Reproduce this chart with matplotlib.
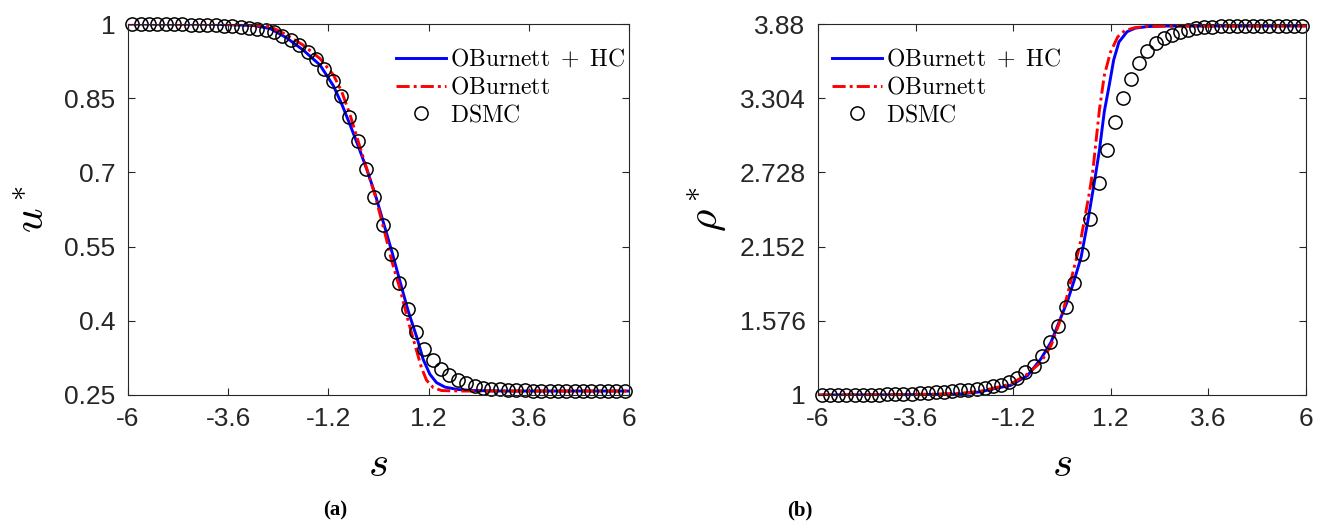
import numpy as np
import matplotlib
matplotlib.use('Agg')
import matplotlib.pyplot as plt

plt.rcParams['font.family'] = ['Liberation Sans', 'DejaVu Sans']
plt.rcParams['mathtext.fontset'] = 'cm'

# DSMC samples (same s-grid for both panels)
s_dsmc = [-5.9, -5.7, -5.5, -5.3, -5.1, -4.9, -4.7, -4.5, -4.3, -4.1,
          -3.9, -3.7, -3.5, -3.3, -3.1, -2.9, -2.7, -2.5, -2.3, -2.1,
          -1.9, -1.7, -1.5, -1.3, -1.1, -0.9, -0.7, -0.5, -0.3, -0.1,
          0.1, 0.3, 0.5, 0.7, 0.9, 1.1, 1.3, 1.5, 1.7, 1.9,
          2.1, 2.3, 2.5, 2.7, 2.9, 3.1, 3.3, 3.5, 3.7, 3.9,
          4.1, 4.3, 4.5, 4.7, 4.9, 5.1, 5.3, 5.5, 5.7, 5.9]
u_dsmc = [1.000, 1.000, 1.000, 1.000, 0.999, 0.999, 0.999, 0.998, 0.998, 0.997,
          0.997, 0.996, 0.995, 0.993, 0.991, 0.989, 0.987, 0.984, 0.976, 0.968,
          0.957, 0.944, 0.929, 0.910, 0.884, 0.855, 0.812, 0.763, 0.706, 0.650,
          0.593, 0.535, 0.477, 0.423, 0.378, 0.344, 0.320, 0.302, 0.290, 0.281,
          0.274, 0.268, 0.265, 0.263, 0.262, 0.261, 0.260, 0.2595, 0.259, 0.2587,
          0.2585, 0.2583, 0.2582, 0.2581, 0.258, 0.258, 0.258, 0.258, 0.258, 0.258]
rho_dsmc = [1.000, 1.000, 1.000, 1.000, 1.001, 1.001, 1.002, 1.003, 1.004, 1.006,
            1.008, 1.010, 1.013, 1.017, 1.021, 1.026, 1.030, 1.036, 1.040, 1.046,
            1.055, 1.067, 1.080, 1.098, 1.129, 1.176, 1.228, 1.306, 1.415, 1.536,
            1.687, 1.869, 2.098, 2.363, 2.642, 2.902, 3.117, 3.304, 3.453, 3.576,
            3.672, 3.732, 3.771, 3.797, 3.818, 3.836, 3.849, 3.857, 3.860, 3.862,
            3.863, 3.864, 3.865, 3.865, 3.865, 3.865, 3.865, 3.865, 3.865, 3.865]

# OBurnett + HC, velocity
s_hc_u = [-6.0, -4.0, -3.0, -2.6, -2.2, -1.8, -1.4, -1.08, -0.88, -0.68, -0.48, -0.28,
          -0.08, 0.12, 0.32, 0.52, 0.71, 0.92, 1.07, 1.23, 1.39, 1.59, 1.91, 2.3, 3.0, 6.0]
u_hc = [1.0, 0.9995, 0.997, 0.991, 0.972, 0.947, 0.917, 0.875, 0.838, 0.796, 0.752, 0.706,
        0.656, 0.598, 0.540, 0.478, 0.420, 0.366, 0.322, 0.292, 0.275, 0.266, 0.261, 0.259, 0.258, 0.258]
# OBurnett, velocity
s_ob_u = [-6.0, -4.0, -3.0, -2.6, -2.2, -1.8, -1.4, -1.08, -0.88, -0.68, -0.48, -0.28,
          -0.08, 0.16, 0.32, 0.52, 0.71, 0.88, 1.03, 1.15, 1.31, 1.51, 2.0, 6.0]
u_ob = [1.0, 0.9998, 0.998, 0.995, 0.978, 0.957, 0.930, 0.897, 0.863, 0.816, 0.761, 0.707,
        0.653, 0.575, 0.520, 0.463, 0.400, 0.349, 0.305, 0.280, 0.265, 0.259, 0.258, 0.258]

# OBurnett + HC, density
s_hc_r = [-6.0, -4.0, -3.0, -2.5, -2.0, -1.67, -1.26, -0.85, -0.52, -0.27, -0.03, 0.14, 0.30,
          0.47, 0.63, 0.80, 0.92, 1.04, 1.17, 1.27, 1.40, 1.60, 1.80, 2.10, 2.50, 6.0]
r_hc = [1.0, 1.002, 1.005, 1.008, 1.025, 1.049, 1.075, 1.150, 1.280, 1.410, 1.600, 1.734, 1.890,
        2.070, 2.340, 2.660, 2.900, 3.200, 3.420, 3.600, 3.740, 3.820, 3.848, 3.860, 3.864, 3.865]
# OBurnett, density
s_ob_r = [-6.0, -4.0, -3.0, -2.5, -2.0, -1.67, -1.26, -0.85, -0.52, -0.27, -0.03, 0.14, 0.30,
          0.43, 0.55, 0.67, 0.76, 0.84, 0.92, 1.04, 1.19, 1.37, 1.55, 1.80, 2.10, 2.50, 6.0]
r_ob = [1.0, 1.003, 1.008, 1.013, 1.030, 1.054, 1.085, 1.163, 1.254, 1.384, 1.590, 1.786, 1.993,
        2.149, 2.357, 2.565, 2.746, 2.980, 3.214, 3.480, 3.660, 3.780, 3.830, 3.852, 3.861, 3.864, 3.865]

x_ticks = [-6, -3.6, -1.2, 1.2, 3.6, 6]
x_ticklabels = ['-6', '-3.6', '-1.2', '1.2', '3.6', '6']
u_ticks = [0.25, 0.4, 0.55, 0.7, 0.85, 1]
u_ticklabels = ['0.25', '0.4', '0.55', '0.7', '0.85', '1']
r_ticks = [1, 1.576, 2.152, 2.728, 3.304, 3.88]
r_ticklabels = ['1', '1.576', '2.152', '2.728', '3.304', '3.88']

W, H = 1327, 527
fig = plt.figure(figsize=(W / 100, H / 100), dpi=100)
ax1 = fig.add_axes([128 / W, 1 - 395 / H, 501 / W, 371 / H])
ax2 = fig.add_axes([818 / W, 1 - 395 / H, 488 / W, 371 / H])

dark = '#262626'


def draw(ax, s1, y1, s2, y2, yd, ylim, yt, ytl, ylabel, legx):
    ax.plot(s1, y1, color='b', lw=2.1, label=r'$\mathrm{OBurnett}\ +\ \mathrm{HC}$')
    ax.plot(s2, y2, color='r', lw=2.1, dashes=(4.5, 1.4, 1.0, 1.4), label=r'$\mathrm{OBurnett}$')
    ax.plot(s_dsmc, yd, 'o', mfc='none', mec='k', ms=9.5, mew=1.1, clip_on=False, label=r'$\mathrm{DSMC}$')
    ax.set_xlim(-6, 6)
    ax.set_ylim(*ylim)
    ax.set_xticks(x_ticks)
    ax.set_xticklabels(x_ticklabels)
    ax.set_yticks(yt)
    ax.set_yticklabels(ytl)
    ax.tick_params(direction='in', top=True, right=True, length=5, width=0.8,
                   labelsize=19, colors=dark, pad=9)
    for sp in ax.spines.values():
        sp.set_color(dark)
        sp.set_linewidth(0.8)
    ax.set_xlabel(r'$s$', fontsize=31, labelpad=10)
    ax.set_ylabel(ylabel, fontsize=31, labelpad=8)
    ax.legend(loc='upper left', bbox_to_anchor=(legx, 0.935), frameon=False, fontsize=17,
              handlelength=2.1, handletextpad=0.2, labelspacing=0.25, borderpad=0,
              borderaxespad=0)


draw(ax1, s_hc_u, u_hc, s_ob_u, u_ob, u_dsmc, (0.25, 1), u_ticks, u_ticklabels, r'$u^*$', 0.535)
draw(ax2, s_hc_r, r_hc, s_ob_r, r_ob, rho_dsmc, (1, 3.88), r_ticks, r_ticklabels, r'$\rho^*$', 0.029)

fig.text(335 / W, 1 - 510 / H, '(a)', ha='center', va='center', fontsize=15,
         fontweight='bold', family='Liberation Serif')
fig.text(800 / W, 1 - 510 / H, '(b)', ha='center', va='center', fontsize=15,
         fontweight='bold', family='Liberation Serif')

fig.savefig('out.png', dpi=100)
